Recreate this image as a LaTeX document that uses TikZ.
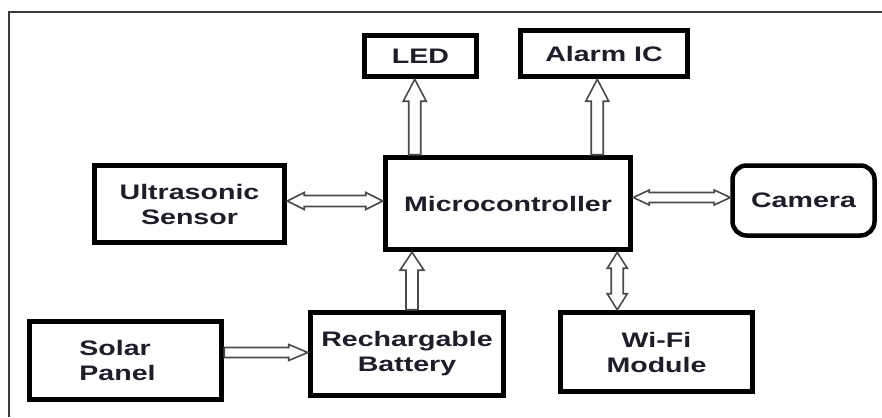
\documentclass[tikz,border=0pt]{standalone}
\usepackage{fontspec}
\setmainfont{Liberation Sans}[FakeStretch=1.36]
\usetikzlibrary{calc}
\definecolor{txt}{HTML}{1E1E2A}
\definecolor{arrgray}{HTML}{4A4A4A}
\definecolor{framegray}{HTML}{3A3A3A}
\tikzset{
  blk/.style={draw=black, line width=5.5pt, fill=white, align=center,
    font=\fontsize{21}{25}\selectfont\bfseries, text=txt, inner sep=0pt},
  hollowarrow/.style={draw=arrgray, fill=white, line width=1.6pt, line join=miter},
  frameline/.style={draw=framegray, line width=1.5pt}
}
% single-headed hollow arrow: start, end, shaft half width, head half width, head length
\newcommand\hollowsingle[5]{%
  \draw[hollowarrow] ($(#1)!#3!90:(#2)$) -- ($(#2)!#5!(#1)!#3!-90:(#1)$)
    -- ($(#2)!#5!(#1)!#4!-90:(#1)$) -- (#2) -- ($(#2)!#5!(#1)!#4!90:(#1)$)
    -- ($(#2)!#5!(#1)!#3!90:(#1)$) -- ($(#1)!#3!-90:(#2)$) -- cycle;}
% double-headed hollow arrow
\newcommand\hollowdouble[5]{%
  \draw[hollowarrow] (#1) -- ($(#1)!#5!(#2)!#4!90:(#2)$) -- ($(#1)!#5!(#2)!#3!90:(#2)$)
    -- ($(#2)!#5!(#1)!#3!-90:(#1)$) -- ($(#2)!#5!(#1)!#4!-90:(#1)$) -- (#2)
    -- ($(#2)!#5!(#1)!#4!90:(#1)$) -- ($(#2)!#5!(#1)!#3!90:(#1)$)
    -- ($(#1)!#5!(#2)!#3!-90:(#2)$) -- ($(#1)!#5!(#2)!#4!-90:(#2)$) -- cycle;}
\begin{document}
\begin{tikzpicture}[x=1pt, y=-1pt]
\useasboundingbox[fill=white] (0,0) rectangle (882,417);
% frame (top and left edges only)
\draw[frameline] (9,417) -- (9,12) -- (882,12);

% blocks
\node[blk, minimum width=112pt, minimum height=41pt] (led) at (420.5,56) {LED};
\node[blk, minimum width=167pt, minimum height=46pt] (alarm) at (604,53.5) {Alarm IC};
\node[blk, minimum width=190pt, minimum height=77pt] (us) at (189.5,204) {Ultrasonic\\Sensor};
\node[blk, minimum width=245pt, minimum height=92pt] (mc) at (508,203.5) {Microcontroller};
\node[blk, line width=4.5pt, rounded corners=14pt, minimum width=142pt, minimum height=70pt] (cam) at (803.5,200.5) {Camera};
\node[blk, align=left, minimum width=192pt, minimum height=78pt] (solar) at (125.5,360.5) {\kern-16pt Solar\\\kern-16pt Panel};
\node[blk, minimum width=193pt, minimum height=83pt] (bat) at (407,354) {Rechargable\\Battery};
\node[blk, minimum width=192pt, minimum height=79pt] (wifi) at (656.5,352) {Wi-Fi\\Module};

% connector end points
\coordinate (ledA) at ($(mc.north west)+(32,0)$);
\coordinate (ledB) at (ledA |- led.south);
\coordinate (alA) at ($(mc.north east)+(-36,0)$);
\coordinate (alB) at (alA |- alarm.south);
\coordinate (batA) at ($(bat.north)+(5,0)$);
\coordinate (batB) at (batA |- mc.south);
\coordinate (wfA) at ($(mc.south east)+(-16,0)$);
\coordinate (wfB) at (wfA |- wifi.north);
\coordinate (usA) at ($(us.east)+(0,-3)$);
\coordinate (usB) at (usA -| mc.west);
\coordinate (camA) at ($(mc.east)+(0,-6)$);
\coordinate (camB) at (camA -| cam.west);
\coordinate (solA) at ($(solar.east)+(0,-8)$);
\coordinate (solB) at (solA -| bat.west);

% connectors
\hollowsingle{ledA}{ledB}{6pt}{11.5pt}{22pt}
\hollowsingle{alA}{alB}{6pt}{11.5pt}{22pt}
\hollowsingle{batA}{batB}{6pt}{12pt}{18pt}
\hollowdouble{wfA}{wfB}{6pt}{10pt}{16pt}
\hollowdouble{usA}{usB}{5.5pt}{8.5pt}{17pt}
\hollowdouble{camA}{camB}{5pt}{7.5pt}{16pt}
\hollowsingle{solA}{solB}{5pt}{8pt}{19pt}
\end{tikzpicture}
\end{document}
